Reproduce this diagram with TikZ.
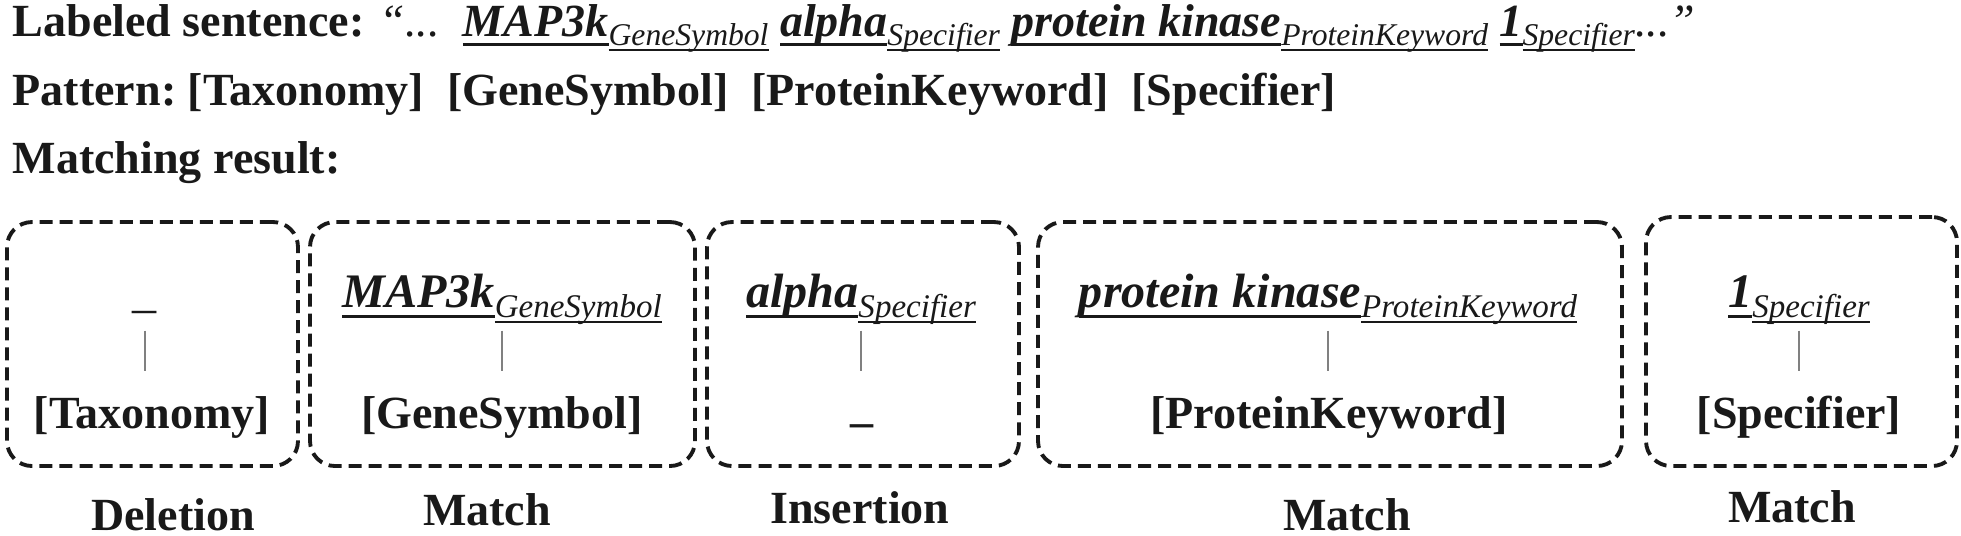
\documentclass[tikz,border=0pt]{standalone}
\usepackage{fontspec}
\setmainfont{LiberationSerif}[Extension=.ttf, UprightFont=*-Regular, BoldFont=*-Bold, ItalicFont=*-Italic, BoldItalicFont=*-BoldItalic]
\newlength\ulwidth
% underlined word, rule at a fixed depth below the baseline
\newcommand{\ulword}[2][-0.22em]{\settowidth{\ulwidth}{#2}\rlap{\rule[#1]{\ulwidth}{0.06em}}#2}
% token with its label as underlined subscript
\newcommand{\tagged}[3][9.4pt]{{\bfseries\itshape\ulword{#2}}\raisebox{-0.21em}{\fontsize{#1}{#1}\selectfont\mdseries\itshape\ulword[-0.18em]{#3}}}
\begin{document}
\begin{tikzpicture}[x=0.1mm, y=-0.1mm,
        every node/.style={text=black!90, font=\fontsize{13.1pt}{15pt}\selectfont\bfseries},
        line/.style={anchor=base west, inner sep=0pt},
        matchbox/.style={draw=black!90, line width=1.1pt, dash pattern=on 3.7pt off 2pt, rounded corners=2.5mm, inner sep=0pt},
        token/.style={anchor=base, inner sep=0pt, text height=3.5mm, text depth=1.6mm, font=\fontsize{13.7pt}{15pt}\selectfont},
        slot/.style={anchor=base, inner sep=0pt, text height=3.5mm, text depth=1mm},
        bar/.style={draw=gray, line width=0.6pt, shorten <=0.7mm, shorten >=2.1mm},
        result/.style={anchor=base, inner sep=0pt}]
        \useasboundingbox (0,0) rectangle (1961,535);
        % heading lines
        \node[line] (sentence) at (12,36) {Labeled sentence: {\mdseries\itshape “...}\ \ \tagged[9pt]{MAP3k}{GeneSymbol} \tagged[9pt]{alpha}{Specifier} \tagged[9pt]{protein kinase}{ProteinKeyword} \tagged[9pt]{1}{Specifier}{\mdseries\itshape...”}};
        \node[line] (pattern) at (12,105) {Pattern:\ [Taxonomy]\ \ [GeneSymbol]\ \ [ProteinKeyword]\ \ [Specifier]};
        \node[line] (matching) at (12,173) {Matching result:};
        % dashed boxes
        \node[matchbox, minimum width=29.1mm, minimum height=24.4mm] (box1) at (152.5,344) {};
        \node[matchbox, minimum width=38.5mm, minimum height=24.4mm] (box2) at (502.5,344) {};
        \node[matchbox, minimum width=31.2mm, minimum height=24.4mm] (box3) at (863,344) {};
        \node[matchbox, minimum width=58.4mm, minimum height=24.4mm] (box4) at (1330,344) {};
        \node[matchbox, minimum width=31.1mm, minimum height=24.9mm] (box5) at (1801.5,341.5) {};
        % sentence tokens
        \node[token] (top1) at (145,307)  {\itshape\_};
        \node[token] (top2) at (502,307)  {\tagged{MAP3k}{GeneSymbol}};
        \node[token] (top3) at (861,307)  {\tagged{alpha}{Specifier}};
        \node[token] (top4) at (1328,307) {\tagged{protein kinase}{ProteinKeyword}};
        \node[token] (top5) at (1799,307) {\tagged{1}{Specifier}};
        % pattern slots
        \node[slot] (bot1) at (152,428)  {[Taxonomy]};
        \node[slot] (bot2) at (502,428)  {[GeneSymbol]};
        \node[slot] (bot3) at (862,428)  {\raisebox{0.15em}{\_}};
        \node[slot] (bot4) at (1329,428) {[ProteinKeyword]};
        \node[slot] (bot5) at (1799,428) {[Specifier]};
        % links
        \foreach \i in {1,...,5}
            \draw[bar] (top\i.south) -- (top\i.south |- bot\i.north);
        % operations
        \node[result] (op1) at (173,530)  {Deletion};
        \node[result] (op2) at (487,525)  {Match};
        \node[result] (op3) at (860,523)  {Insertion};
        \node[result] (op4) at (1347,530) {Match};
        \node[result] (op5) at (1792,522) {Match};
    \end{tikzpicture}
\end{document}
